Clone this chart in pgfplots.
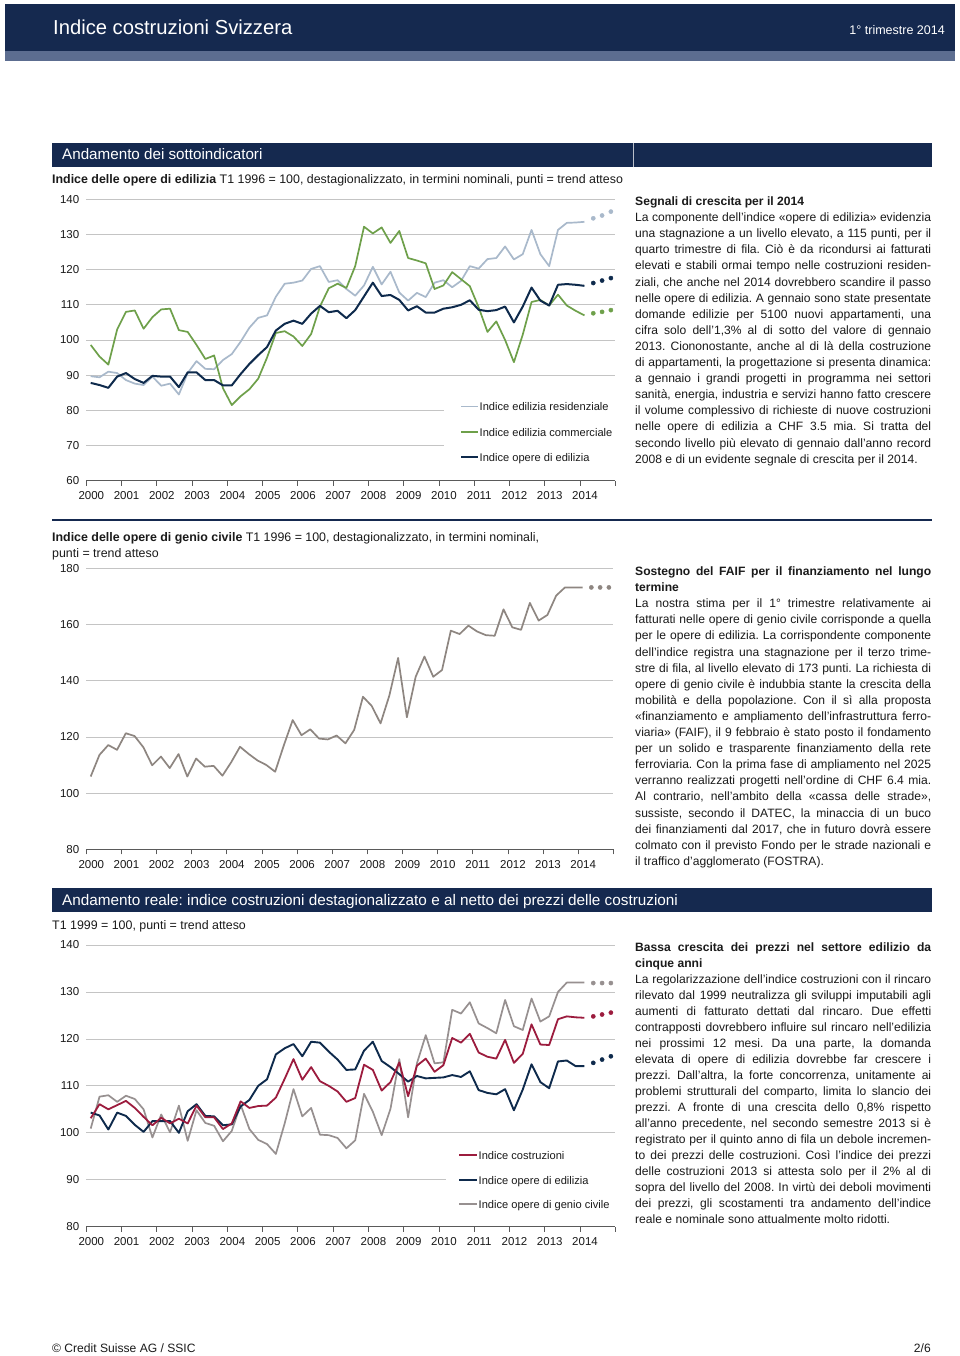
\documentclass[border=0pt]{standalone}
\usepackage{fontspec}
\setmainfont{Liberation Sans}
\usepackage{pgfplots}
\usepackage{pgfplotstable}
\pgfplotsset{compat=1.18}

\definecolor{hdrnavy}{HTML}{15294F}
\definecolor{hdrslate}{HTML}{5C6D90}
\definecolor{cnavy}{HTML}{0E2A4C}
\definecolor{clight}{HTML}{A9B9CB}
\definecolor{cgreen}{HTML}{6EA04A}
\definecolor{cgray}{HTML}{8E8681}
\definecolor{cgray3}{HTML}{979090}
\definecolor{cred}{HTML}{9C1C3E}
\definecolor{gridcol}{HTML}{C4C4C4}
\definecolor{axiscol}{HTML}{5A5A5A}
\definecolor{txt}{HTML}{1A1A1A}

\newcommand{\bodyfont}{\fontsize{12.1}{14}\selectfont}
\newcommand{\subfont}{\fontsize{12.4}{14}\selectfont}
\newcommand{\legfont}{\fontsize{11.1}{13}\selectfont}
\newcommand{\tjl}[2]{\node[anchor=base west,inner sep=0pt,font=\bodyfont,text=txt] at (635pt,-#1pt) {\makebox[296pt][s]{#2}};}
\newcommand{\tlast}[2]{\node[anchor=base west,inner sep=0pt,font=\bodyfont,text=txt] at (635pt,-#1pt) {#2};}

\pgfplotsset{
 csaxis/.style={
  scale only axis, anchor=south west, clip=false,
  xmin=2000, xmax=2015,
  axis lines*=left,
  y axis line style={draw=none},
  x axis line style={draw=axiscol, line width=1pt},
  xtick={2000,2001,...,2015},
  xticklabels={2000,2001,2002,2003,2004,2005,2006,2007,2008,2009,2010,2011,2012,2013,2014,{}},
  xtick style={draw=axiscol, line width=0.8pt},
  tick align=outside, major tick length=5pt,
  ytick style={draw=none},
  tick label style={font=\fontsize{11.5}{13}\selectfont, text=txt},
  xticklabel style={xshift=5pt, yshift=-2.5pt},
  yticklabel style={anchor=east, xshift=1.5pt},
  /pgf/number format/assume math mode=true,
  /pgf/number format/1000 sep={},
  every axis plot/.append style={line join=round},
 }
}

\pgfplotstableread{
x res com edi
2000.125 89.7 98.6 87.8
2000.375 89.4 95.3 87.2
2000.625 91.0 93.0 86.4
2000.875 90.6 103.0 89.6
2001.125 88.6 108.0 90.6
2001.375 87.6 108.4 88.9
2001.625 87.2 103.2 87.8
2001.875 89.6 106.5 89.8
2002.125 87.0 108.7 89.6
2002.375 87.6 108.9 89.6
2002.625 84.5 102.8 86.6
2002.875 90.6 102.3 90.8
2003.125 94.0 98.6 90.8
2003.375 91.8 94.6 88.6
2003.625 91.7 95.6 88.6
2003.875 94.3 86.3 87.1
2004.125 96.0 81.5 87.1
2004.375 99.5 84.0 90.3
2004.625 103.5 86.0 93.2
2004.875 106.3 89.0 95.7
2005.125 107.0 95.0 98.0
2005.375 112.3 102.0 102.7
2005.625 116.0 102.5 104.6
2005.875 116.3 101.0 105.5
2006.125 116.9 98.3 104.6
2006.375 120.2 101.7 107.5
2006.625 121.0 109.5 109.7
2006.875 116.5 114.7 107.9
2007.125 117.0 116.0 108.3
2007.375 114.5 114.8 106.2
2007.625 112.6 121.0 108.5
2007.875 115.5 132.2 112.4
2008.125 120.8 130.3 116.3
2008.375 115.8 132.0 112.5
2008.625 119.4 127.6 112.8
2008.875 113.5 131.0 111.4
2009.125 111.2 123.3 108.4
2009.375 113.4 122.6 109.6
2009.625 112.2 121.8 107.8
2009.875 116.3 114.5 107.8
2010.125 117.0 115.5 108.9
2010.375 115.0 119.3 109.3
2010.625 116.8 117.3 110.0
2010.875 121.0 115.3 111.3
2011.125 120.3 109.3 108.6
2011.375 123.0 102.3 108.2
2011.625 123.3 105.3 108.5
2011.875 126.6 100.0 109.5
2012.125 122.9 93.7 105.0
2012.375 124.4 101.5 109.5
2012.625 131.3 110.8 114.9
2012.875 124.4 111.4 111.2
2013.125 121.0 109.8 109.8
2013.375 131.3 112.9 115.7
2013.625 133.3 109.8 115.9
2013.875 133.4 108.3 115.7
2014.125 133.6 107.0 115.4
}\tabA

\pgfplotstableread{
x res com edi
2014.375 134.6 107.6 116.2
2014.625 135.4 108.0 116.9
2014.875 136.5 108.5 117.6
}\tabAt

\pgfplotstableread{
x gen
2000.125 105.9
2000.375 113.6
2000.625 117.1
2000.875 115.4
2001.125 121.3
2001.375 120.3
2001.625 116.3
2001.875 109.9
2002.125 113.0
2002.375 108.9
2002.625 113.9
2002.875 105.9
2003.125 112.3
2003.375 109.4
2003.625 109.7
2003.875 106.2
2004.125 111.0
2004.375 116.5
2004.625 113.9
2004.875 111.6
2005.125 110.0
2005.375 107.6
2005.625 117.1
2005.875 126.0
2006.125 120.6
2006.375 122.7
2006.625 119.4
2006.875 119.1
2007.125 120.5
2007.375 117.7
2007.625 122.5
2007.875 134.3
2008.125 131.0
2008.375 124.8
2008.625 134.7
2008.875 148.1
2009.125 127.0
2009.375 141.4
2009.625 148.6
2009.875 141.4
2010.125 143.8
2010.375 157.8
2010.625 156.6
2010.875 159.6
2011.125 157.5
2011.375 156.2
2011.625 156.0
2011.875 165.4
2012.125 159.0
2012.375 158.1
2012.625 167.7
2012.875 161.4
2013.125 163.4
2013.375 170.3
2013.625 173.2
2013.875 173.2
2014.125 173.2
}\tabB

\pgfplotstableread{
x gen
2014.375 173.2
2014.625 173.2
2014.875 173.2
}\tabBt

\pgfplotstableread{
x cos edi gen
2000.125 103.1 104.3 100.9
2000.375 106.1 103.7 107.7
2000.625 105.0 100.7 108.0
2000.875 105.9 104.3 106.6
2001.125 106.8 103.6 107.9
2001.375 105.3 101.7 107.2
2001.625 103.4 100.2 105.0
2001.875 101.6 102.5 99.0
2002.125 103.2 102.5 103.9
2002.375 102.0 102.5 100.1
2002.625 103.0 100.0 105.8
2002.875 102.0 104.6 98.3
2003.125 105.8 106.1 104.8
2003.375 103.3 103.6 102.1
2003.625 103.3 103.5 101.5
2003.875 100.8 101.6 98.2
2004.125 102.0 101.8 100.4
2004.375 106.7 105.6 106.0
2004.625 105.3 107.0 100.8
2004.875 105.7 110.0 98.5
2005.125 105.8 111.4 97.6
2005.375 107.5 116.7 95.5
2005.625 111.5 118.0 102.0
2005.875 115.7 118.9 109.3
2006.125 111.3 116.3 103.5
2006.375 114.0 119.4 105.3
2006.625 111.0 119.2 99.6
2006.875 110.0 117.3 99.5
2007.125 108.8 115.6 98.9
2007.375 106.6 113.4 96.7
2007.625 107.4 113.5 98.4
2007.875 114.5 117.5 108.3
2008.125 113.4 119.4 104.5
2008.375 109.0 115.3 99.5
2008.625 110.8 114.0 105.1
2008.875 115.0 112.5 115.7
2009.125 107.8 110.9 103.3
2009.375 114.3 112.1 114.8
2009.625 115.8 111.6 120.8
2009.875 113.0 111.7 114.8
2010.125 114.4 111.8 115.0
2010.375 120.2 112.3 126.2
2010.625 119.2 111.9 125.4
2010.875 121.1 113.1 127.8
2011.125 117.1 109.1 123.3
2011.375 116.2 108.5 122.3
2011.625 115.8 108.2 121.2
2011.875 119.8 109.3 128.3
2012.125 114.9 104.8 122.7
2012.375 116.8 109.2 121.9
2012.625 123.1 114.6 128.6
2012.875 118.8 110.8 123.7
2013.125 118.7 109.5 124.8
2013.375 124.2 115.2 130.0
2013.625 124.8 115.4 132.0
2013.875 124.6 114.2 132.0
2014.125 124.5 114.2 132.0
}\tabC

\pgfplotstableread{
x cos edi gen
2014.375 124.8 114.9 131.9
2014.625 125.2 115.6 131.9
2014.875 125.6 116.3 131.9
}\tabCt

\begin{document}
\frenchspacing
\begin{tikzpicture}
\path[use as bounding box, fill=white] (0pt,0pt) rectangle (960pt,-1356pt);

% header
\fill[hdrnavy] (5pt,-4pt) rectangle (955pt,-51pt);
\fill[hdrslate] (5pt,-51pt) rectangle (955pt,-61pt);
\node[anchor=base west, text=white, font=\fontsize{20.2}{24}\selectfont, inner sep=0pt] at (53pt,-35pt) {Indice costruzioni Svizzera};
\node[anchor=base east, text=white, font=\fontsize{12.5}{15}\selectfont, inner sep=0pt] at (945pt,-34.5pt) {1° trimestre 2014};

% section bar 1
\fill[hdrnavy] (52pt,-143pt) rectangle (932pt,-167pt);
\draw[white!70!hdrnavy, line width=0.8pt] (633pt,-143pt) -- (633pt,-167pt);
\node[anchor=base west, text=white, font=\fontsize{15.2}{17}\selectfont, inner sep=0pt] at (62pt,-160pt) {Andamento dei sottoindicatori};
\node[anchor=base west, text=txt, font=\subfont, inner sep=0pt] at (52pt,-184pt) {\textbf{Indice delle opere di edilizia} T1 1996 = 100, destagionalizzato, in termini nominali, punti = trend atteso};

% chart 1
\begin{axis}[csaxis, at={(86.3pt,-480.7pt)}, width=529pt, height=281.4pt,
  ymin=60, ymax=140, ytick={60,70,...,140}]
\draw[gridcol, line width=0.8pt] (axis cs:2000,140) -- (axis cs:2015,140);
\draw[gridcol, line width=0.8pt] (axis cs:2000,130) -- (axis cs:2015,130);
\draw[gridcol, line width=0.8pt] (axis cs:2000,120) -- (axis cs:2015,120);
\draw[gridcol, line width=0.8pt] (axis cs:2000,110) -- (axis cs:2015,110);
\draw[gridcol, line width=0.8pt] (axis cs:2000,100) -- (axis cs:2015,100);
\draw[gridcol, line width=0.8pt] (axis cs:2000,90) -- (axis cs:2015,90);
\draw[gridcol, line width=0.8pt] (axis cs:2000,80) -- (axis cs:2010.14,80);
\draw[gridcol, line width=0.8pt] (axis cs:2000,70) -- (axis cs:2010.14,70);
\addplot[clight, line width=1.7pt] table[x=x,y=res]{\tabA};
\addplot[cgreen, line width=1.7pt] table[x=x,y=com]{\tabA};
\addplot[cnavy, line width=2pt] table[x=x,y=edi]{\tabA};
\addplot[only marks, mark=*, mark size=2.1pt, clight, mark options={draw=none}] table[x=x,y=res]{\tabAt};
\addplot[only marks, mark=*, mark size=2.1pt, cgreen, mark options={draw=none}] table[x=x,y=com]{\tabAt};
\addplot[only marks, mark=*, mark size=2.1pt, cnavy, mark options={draw=none}] table[x=x,y=edi]{\tabAt};
\end{axis}
% legend 1
\draw[clight, line width=1.7pt] (461pt,-406.5pt) -- (478pt,-406.5pt);
\draw[cgreen, line width=1.7pt] (461pt,-432pt) -- (478pt,-432pt);
\draw[cnavy, line width=2pt] (461pt,-457pt) -- (478pt,-457pt);
\node[anchor=base west, inner sep=0pt, font=\legfont, text=txt] at (479.5pt,-410.5pt) {Indice edilizia residenziale};
\node[anchor=base west, inner sep=0pt, font=\legfont, text=txt] at (479.5pt,-436pt) {Indice edilizia commerciale};
\node[anchor=base west, inner sep=0pt, font=\legfont, text=txt] at (479.5pt,-461pt) {Indice opere di edilizia};

% text 1
\tlast{205.5}{\bfseries Segnali di crescita per il 2014}
\tjl{221.6}{La componente dell'indice «opere di edilizia» evidenzia}
\tjl{237.7}{una stagnazione a un livello elevato, a 115 punti, per il}
\tjl{253.8}{quarto trimestre di fila. Ciò è da ricondursi ai fatturati}
\tjl{269.9}{elevati e stabili ormai tempo nelle costruzioni residen-}
\tjl{286.0}{ziali, che anche nel 2014 dovrebbero scandire il passo}
\tjl{302.1}{nelle opere di edilizia. A gennaio sono state presentate}
\tjl{318.2}{domande edilizie per 5100 nuovi appartamenti, una}
\tjl{334.3}{cifra solo dell'1,3\% al di sotto del valore di gennaio}
\tjl{350.4}{2013. Ciononostante, anche al di là della costruzione}
\tjl{366.5}{di appartamenti, la progettazione si presenta dinamica:}
\tjl{382.6}{a gennaio i grandi progetti in programma nei settori}
\tjl{398.7}{sanità, energia, industria e servizi hanno fatto crescere}
\tjl{414.8}{il volume complessivo di richieste di nuove costruzioni}
\tjl{430.9}{nelle opere di edilizia a CHF 3.5 mia. Si tratta del}
\tjl{447.0}{secondo livello più elevato di gennaio dall'anno record}
\tlast{463.1}{2008 e di un evidente segnale di crescita per il 2014.}

% separator
\draw[hdrnavy, line width=2pt] (52pt,-519.5pt) -- (932pt,-519.5pt);
\node[anchor=base west, text=txt, font=\subfont, inner sep=0pt] at (52pt,-541pt) {\textbf{Indice delle opere di genio civile} T1 1996 = 100, destagionalizzato, in termini nominali,};
\node[anchor=base west, text=txt, font=\subfont, inner sep=0pt] at (52pt,-557pt) {punti = trend atteso};

% chart 2
\begin{axis}[csaxis, at={(86.3pt,-849.3pt)}, width=527pt, height=281pt,
  ymin=80, ymax=180, ytick={80,100,...,180}]
\draw[gridcol, line width=0.8pt] (axis cs:2000,180) -- (axis cs:2015,180);
\draw[gridcol, line width=0.8pt] (axis cs:2000,160) -- (axis cs:2015,160);
\draw[gridcol, line width=0.8pt] (axis cs:2000,140) -- (axis cs:2015,140);
\draw[gridcol, line width=0.8pt] (axis cs:2000,120) -- (axis cs:2015,120);
\draw[gridcol, line width=0.8pt] (axis cs:2000,100) -- (axis cs:2015,100);
\addplot[cgray, line width=1.7pt] table[x=x,y=gen]{\tabB};
\addplot[only marks, mark=*, mark size=2.1pt, cgray, mark options={draw=none}] table[x=x,y=gen]{\tabBt};
\end{axis}

% text 2
\tjl{575.5}{\bfseries Sostegno del FAIF per il finanziamento nel lungo}
\tlast{591.6}{\bfseries termine}
\tjl{607.7}{La nostra stima per il 1° trimestre relativamente ai}
\tjl{623.8}{fatturati nelle opere di genio civile corrisponde a quella}
\tjl{639.9}{per le opere di edilizia. La corrispondente componente}
\tjl{656.0}{dell'indice registra una stagnazione per il terzo trime-}
\tjl{672.1}{stre di fila, al livello elevato di 173 punti. La richiesta di}
\tjl{688.2}{opere di genio civile è indubbia stante la crescita della}
\tjl{704.3}{mobilità e della popolazione. Con il sì alla proposta}
\tjl{720.4}{«finanziamento e ampliamento dell'infrastruttura ferro-}
\tjl{736.5}{viaria» (FAIF), il 9 febbraio è stato posto il fondamento}
\tjl{752.6}{per un solido e trasparente finanziamento della rete}
\tjl{768.7}{ferroviaria. Con la prima fase di ampliamento nel 2025}
\tjl{784.8}{verranno realizzati progetti nell'ordine di CHF 6.4 mia.}
\tjl{800.9}{Al contrario, nell'ambito della «cassa delle strade»,}
\tjl{817.0}{sussiste, secondo il DATEC, la minaccia di un buco}
\tjl{833.1}{dei finanziamenti dal 2017, che in futuro dovrà essere}
\tjl{849.2}{colmato con il previsto Fondo per le strade nazionali e}
\tlast{865.3}{il traffico d'agglomerato (FOSTRA).}

% section bar 2
\fill[hdrnavy] (52pt,-888pt) rectangle (932pt,-912pt);
\node[anchor=base west, text=white, font=\fontsize{15.3}{17}\selectfont, inner sep=0pt] at (62pt,-905pt) {Andamento reale: indice costruzioni destagionalizzato e al netto dei prezzi delle costruzioni};
\node[anchor=base west, text=txt, font=\subfont, inner sep=0pt] at (52pt,-929pt) {T1 1999 = 100, punti = trend atteso};

% chart 3
\begin{axis}[csaxis, at={(86.3pt,-1226.7pt)}, width=529pt, height=281.7pt,
  ymin=80, ymax=140, ytick={80,90,...,140}]
\draw[gridcol, line width=0.8pt] (axis cs:2000,140) -- (axis cs:2015,140);
\draw[gridcol, line width=0.8pt] (axis cs:2000,130) -- (axis cs:2015,130);
\draw[gridcol, line width=0.8pt] (axis cs:2000,120) -- (axis cs:2015,120);
\draw[gridcol, line width=0.8pt] (axis cs:2000,110) -- (axis cs:2015,110);
\draw[gridcol, line width=0.8pt] (axis cs:2000,100) -- (axis cs:2015,100);
\draw[gridcol, line width=0.8pt] (axis cs:2000,90) -- (axis cs:2010.2,90);
\addplot[cgray3, line width=1.7pt] table[x=x,y=gen]{\tabC};
\addplot[cnavy, line width=1.9pt] table[x=x,y=edi]{\tabC};
\addplot[cred, line width=1.8pt] table[x=x,y=cos]{\tabC};
\addplot[only marks, mark=*, mark size=2.1pt, cgray3, mark options={draw=none}] table[x=x,y=gen]{\tabCt};
\addplot[only marks, mark=*, mark size=2.1pt, cnavy, mark options={draw=none}] table[x=x,y=edi]{\tabCt};
\addplot[only marks, mark=*, mark size=2.1pt, cred, mark options={draw=none}] table[x=x,y=cos]{\tabCt};
\end{axis}
% legend 3
\draw[cred, line width=1.8pt] (459pt,-1155pt) -- (477pt,-1155pt);
\draw[cnavy, line width=1.9pt] (459pt,-1180pt) -- (477pt,-1180pt);
\draw[cgray3, line width=1.7pt] (459pt,-1204pt) -- (477pt,-1204pt);
\node[anchor=base west, inner sep=0pt, font=\legfont, text=txt] at (478.5pt,-1159pt) {Indice costruzioni};
\node[anchor=base west, inner sep=0pt, font=\legfont, text=txt] at (478.5pt,-1184pt) {Indice opere di edilizia};
\node[anchor=base west, inner sep=0pt, font=\legfont, text=txt] at (478.5pt,-1208pt) {Indice opere di genio civile};

% text 3
\tjl{951.5}{\bfseries Bassa crescita dei prezzi nel settore edilizio da}
\tlast{967.5}{\bfseries cinque anni}
\tjl{983.5}{La regolarizzazione dell'indice costruzioni con il rincaro}
\tjl{999.5}{rilevato dal 1999 neutralizza gli sviluppi imputabili agli}
\tjl{1015.5}{aumenti di fatturato dettati dal rincaro. Due effetti}
\tjl{1031.5}{contrapposti dovrebbero influire sul rincaro nell'edilizia}
\tjl{1047.5}{nei prossimi 12 mesi. Da una parte, la domanda}
\tjl{1063.5}{elevata di opere di edilizia dovrebbe far crescere i}
\tjl{1079.5}{prezzi. Dall'altra, la forte concorrenza, unitamente ai}
\tjl{1095.5}{problemi strutturali del comparto, limita lo slancio dei}
\tjl{1111.5}{prezzi. A fronte di una crescita dello 0,8\% rispetto}
\tjl{1127.5}{all'anno precedente, nel secondo semestre 2013 si è}
\tjl{1143.5}{registrato per il quinto anno di fila un debole incremen-}
\tjl{1159.5}{to dei prezzi delle costruzioni. Così l'indice dei prezzi}
\tjl{1175.5}{delle costruzioni 2013 si attesta solo per il 2\% al di}
\tjl{1191.5}{sopra del livello del 2008. In virtù dei deboli movimenti}
\tjl{1207.5}{dei prezzi, gli scostamenti tra andamento dell'indice}
\tlast{1223.5}{reale e nominale sono attualmente molto ridotti.}

% footer
\node[anchor=base west, inner sep=0pt, font=\bodyfont, text=txt] at (52pt,-1352pt) {© Credit Suisse AG / SSIC};
\node[anchor=base east, inner sep=0pt, font=\bodyfont, text=txt] at (931pt,-1352pt) {2/6};
\end{tikzpicture}
\end{document}
